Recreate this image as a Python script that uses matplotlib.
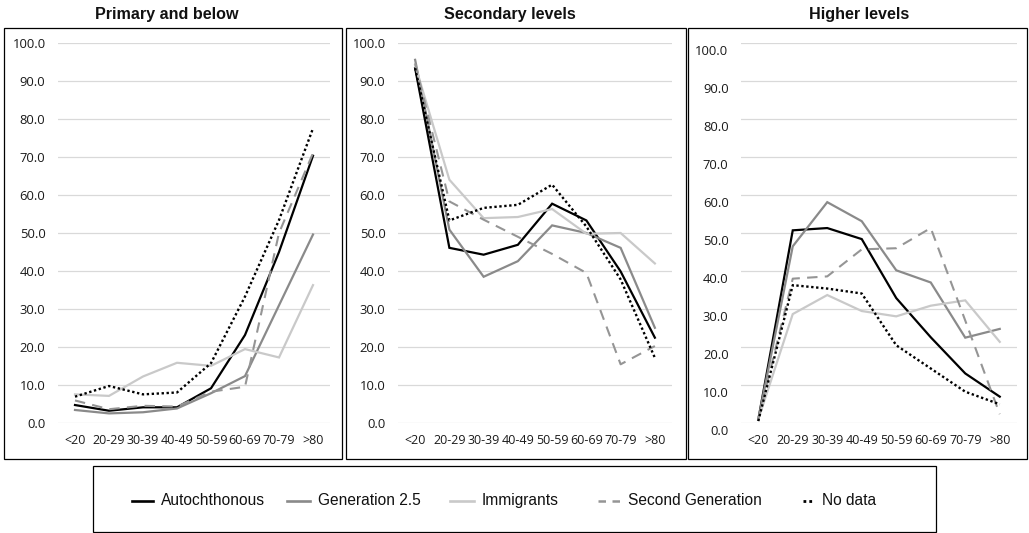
import matplotlib
matplotlib.use("Agg")
import matplotlib.pyplot as plt
from matplotlib.patches import Rectangle
from matplotlib.lines import Line2D
import matplotlib.transforms as mtransforms

# ---------------- data ----------------
ages = ['<20', '20-29', '30-39', '40-49', '50-59', '60-69', '70-79', '>80']
panel_titles = ['Primary and below', 'Secondary levels', 'Higher levels']
series_names = ['Autochthonous', 'Generation 2.5', 'Immigrants', 'Second Generation', 'No data']

auto_p = [4.8, 3.3, 4.2, 4.2, 9.2, 23.2, 45.0, 70.3]
gen25_p = [3.5, 2.6, 2.9, 3.9, 7.9, 12.4, 31.0, 49.6]
imm_p = [7.6, 7.2, 12.3, 15.9, 15.1, 19.5, 17.3, 36.3]
sec_p = [6.0, 3.7, 4.6, 4.4, 8.3, 9.6, 50.0, 71.0]
nod_p = [7.0, 9.8, 7.6, 8.1, 15.8, 33.3, 53.4, 77.5]

auto_s = [93.3, 46.1, 44.3, 46.9, 57.7, 53.3, 39.9, 22.5]
gen25_s = [95.5, 50.9, 38.5, 42.6, 52.0, 50.0, 46.1, 25.1]
imm_s = [94.1, 64.0, 53.9, 54.2, 56.3, 49.8, 50.0, 42.0]
sec_s = [94.6, 58.3, 53.5, 49.0, 44.5, 39.5, 15.5, 20.3]
nod_s = [93.3, 53.3, 56.6, 57.4, 62.7, 51.7, 37.8, 17.2]

auto_h = [0.9, 50.7, 51.3, 48.4, 32.9, 22.6, 13.1, 7.0]
gen25_h = [0.9, 46.5, 58.1, 53.1, 40.2, 37.0, 22.5, 24.8]
imm_h = [1.0, 28.7, 33.7, 29.5, 28.1, 30.9, 32.3, 21.4]
sec_h = [1.0, 38.0, 38.6, 45.7, 46.0, 51.3, 27.0, 2.4]
nod_h = [0.6, 36.3, 35.4, 34.1, 20.5, 14.4, 8.3, 5.0]

yticks = [0, 10, 20, 30, 40, 50, 60, 70, 80, 90, 100]

panels = [
    [auto_p, gen25_p, imm_p, sec_p, nod_p],
    [auto_s, gen25_s, imm_s, sec_s, nod_s],
    [auto_h, gen25_h, imm_h, sec_h, nod_h],
]

# ---------------- styles ----------------
styles = [
    dict(color='#000000', lw=1.6, ls='-'),
    dict(color='#8a8a8a', lw=1.6, ls='-'),
    dict(color='#c9c9c9', lw=1.6, ls='-'),
    dict(color='#959595', lw=1.5, ls=(0, (5, 3.5))),
    dict(color='#000000', lw=1.7, ls=(0, (1, 1.1))),
]
legend_ls = ['-', '-', '-', (0, (3, 2.6)), (0, (1, 1.1))]

W, H = 1029, 533
fig = plt.figure(figsize=(W / 100, H / 100), dpi=100)
fig.patch.set_facecolor('white')

def fx(px):
    return px / W

def fy(py):
    return 1 - py / H

# axes extents in pixels (left, right); top/bottom shared
ax_x = [(58, 330), (398, 672), (741, 1017)]
ax_top, ax_bot = 42.7, 423.3
boxes = [(4, 342), (346, 685.5), (688, 1027)]
box_top, box_bot = 28.5, 458.5
title_x = [167, 510, 859]

tick_font = 'Open Sans'
title_font = 'Liberation Sans'

for i, (data, (l, r)) in enumerate(zip(panels, ax_x)):
    ax = fig.add_axes([fx(l), fy(ax_bot), fx(r) - fx(l), fy(ax_top) - fy(ax_bot)])
    x = list(range(len(ages)))
    for vals, st in zip(data, styles):
        ax.plot(x, vals, color=st['color'], lw=st['lw'], linestyle=st['ls'],
                solid_joinstyle='miter', clip_on=False, zorder=3)
    ax.set_xlim(-0.5, len(ages) - 0.5)
    ax.set_ylim(0, 100)
    ax.set_yticks(yticks)
    ax.set_yticklabels(['%.1f' % v for v in yticks], fontsize=9.4, family=tick_font, color='#1a1a1a')
    ax.set_xticks(x)
    ax.set_xticklabels(ages, fontsize=9.0, family=tick_font, color='#1a1a1a')
    ax.tick_params(axis='both', length=0)
    ax.tick_params(axis='y', pad=9.0)
    ax.tick_params(axis='x', pad=7.5)
    ax.yaxis.grid(True, color='#d9d9d9', lw=0.9)
    ax.set_axisbelow(True)
    for sp in ax.spines.values():
        sp.set_visible(False)
    ax.patch.set_alpha(0)
    if i == 2:
        off = mtransforms.ScaledTranslation(0, -7 / 100, fig.dpi_scale_trans)
        for lab in ax.get_yticklabels():
            lab.set_transform(lab.get_transform() + off)
    # chart border
    bl, br = boxes[i]
    fig.patches.append(Rectangle((fx(bl), fy(box_bot)), fx(br) - fx(bl), fy(box_top) - fy(box_bot),
                                 transform=fig.transFigure, fill=False, edgecolor='#000000', lw=0.9))
    fig.text(fx(title_x[i]), fy(15), panel_titles[i], ha='center', va='center',
             fontsize=11.6, fontweight='bold', family=title_font, color='#111111')

# ---------------- legend ----------------
fig.patches.append(Rectangle((fx(93), fy(532)), fx(936) - fx(93), fy(466) - fy(532),
                             transform=fig.transFigure, fill=False, edgecolor='#000000', lw=0.9))
leg_x = [132, 287, 450, 598, 803]
leg_len = [21, 23, 24, 22, 11]
leg_y = 500.5
for name, st, lls, lx, ll in zip(series_names, styles, legend_ls, leg_x, leg_len):
    fig.lines.append(Line2D([fx(lx), fx(lx + ll)], [fy(leg_y), fy(leg_y)], transform=fig.transFigure,
                            color=st['color'], lw=st['lw'] + 0.3, linestyle=lls))
    fig.text(fx(lx + ll + 8), fy(leg_y), name, ha='left', va='center', fontsize=11.2,
             family='Liberation Sans', color='#111111')

fig.savefig('out.png', dpi=100, facecolor='white')
